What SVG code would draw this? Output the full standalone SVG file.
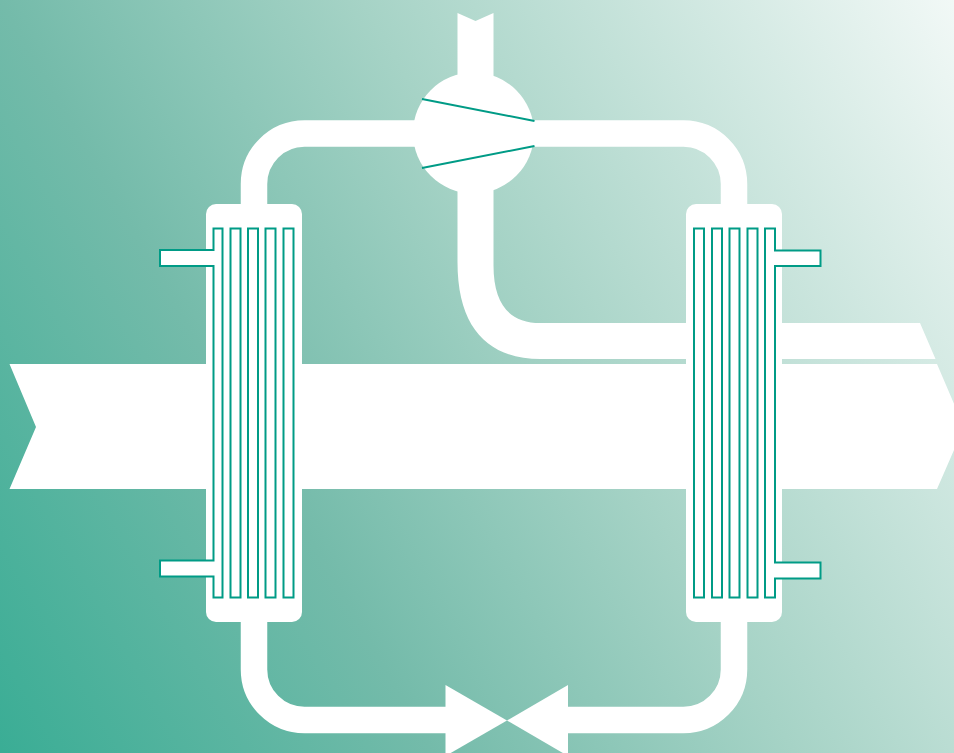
<svg xmlns="http://www.w3.org/2000/svg" width="954" height="753" viewBox="0 0 954 753">
<defs>
<linearGradient id="bg" gradientUnits="userSpaceOnUse" x1="0" y1="753" x2="1086" y2="128">
<stop offset="0" stop-color="#3aad95"/>
<stop offset="0.3" stop-color="#74bbaa"/>
<stop offset="0.55" stop-color="#a6d3c6"/>
<stop offset="1" stop-color="#f9fcfb"/>
</linearGradient>
</defs>
<style>
.w{fill:#fff}
.p{fill:none;stroke:#fff;stroke-width:26.500}
.f{fill:#fff;stroke:#009b86;stroke-width:2}
.b{fill:none;stroke:#009b86;stroke-width:2}
</style>
<rect width="954" height="753" fill="url(#bg)"/>
<g id="connectors">
<path class="p" d="M254 204V184A50.500 50.500 0 0 1 304.500 133.500H683.500A50.500 50.500 0 0 1 734 184V204"/>
<path class="p" d="M254 622V669.500A50.500 50.500 0 0 0 304.500 720H446M568 720H683.500A50.500 50.500 0 0 0 734 669.500V622"/>
</g>
<g id="process-stream"><polygon class="w" points="9.500,364 937,364 964,427 937,489 9.500,489 36,427"/></g>
<g id="refrigerant-outlet"><path class="w" d="M457.500 190V262C457.500 330 490 359 540.500 359H935.500L920 323H540.500C510 323 493.500 305 493.500 265V190Z"/></g>
<g id="inlet"><polygon class="w" points="457.500,13 475.500,21 493.500,13 493.500,90 457.500,90"/></g>
<g id="compressor">
<circle class="w" cx="473.500" cy="133" r="60.500"/>
<path class="b" d="M422 99L534.500 121M422 168L534.500 146"/>
</g>
<g id="evaporator">
<rect class="w" x="206" y="204" width="96" height="418" rx="10"/>
<path class="f" d="M213.500 228.500H222.500V597.500H213.500V576.500H160V560.500H213.500V266H160V250H213.500Z"/>
<rect class="f" x="230.500" y="228.500" width="10" height="369"/>
<rect class="f" x="248" y="228.500" width="10" height="369"/>
<rect class="f" x="265.500" y="228.500" width="10" height="369"/>
<rect class="f" x="283.500" y="228.500" width="10" height="369"/>
</g>
<g id="condenser">
<rect class="w" x="686" y="204" width="96" height="418" rx="10"/>
<rect class="f" x="694" y="228.500" width="10" height="369"/>
<rect class="f" x="712" y="228.500" width="10" height="369"/>
<rect class="f" x="729.500" y="228.500" width="10" height="369"/>
<rect class="f" x="747.500" y="228.500" width="10" height="369"/>
<path class="f" d="M775 228.500H765V597.500H775V578.500H820.500V562.500H775V266H820.500V250.500H775Z"/>
</g>
<g id="valve">
<polygon class="w" points="445.500,685 507,720.500 445.500,756"/>
<polygon class="w" points="568,685 507,720.500 568,756"/>
</g>
</svg>
